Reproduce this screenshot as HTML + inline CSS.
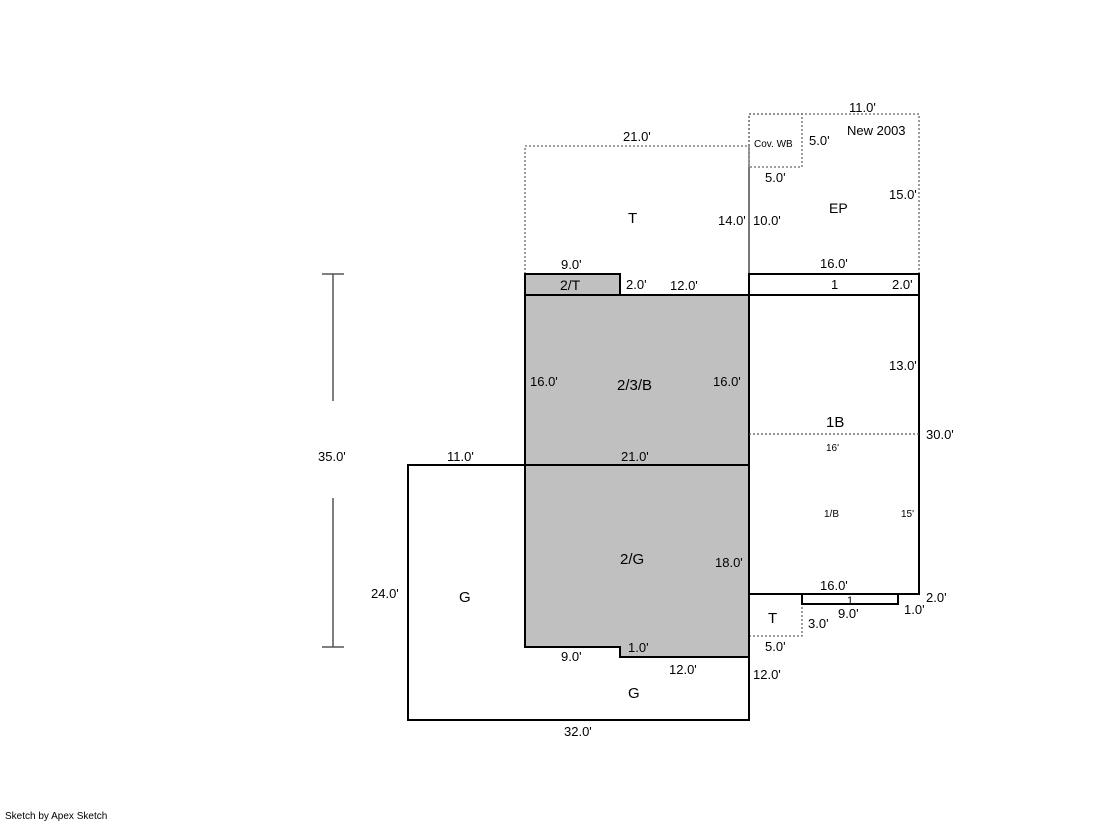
<!DOCTYPE html>
<html><head><style>body{margin:0;background:#fff}svg text{font-family:"Liberation Sans",sans-serif;font-size:13px;fill:#000}</style></head>
<body>
<svg width="1119" height="821" viewBox="0 0 1119 821" xmlns="http://www.w3.org/2000/svg">
<g fill="none" stroke="#666" stroke-width="1.3" stroke-dasharray="2,2">
<polyline points="525,274 525,146 749,146 749,167"/>
<polyline points="749,274 749,114 919,114 919,274"/>
<rect x="749" y="114" width="53" height="53"/>
<polyline points="749,636 802,636 802,604"/>
</g>
<line x1="749" y1="167" x2="749" y2="274" stroke="#777" stroke-width="2"/>
<polygon points="525,274 620,274 620,295 749,295 749,657 620,657 620,647 525,647" fill="#c0c0c0" stroke="none"/>
<g fill="none" stroke="#000" stroke-width="2">
<rect x="525" y="274" width="95" height="21"/>
<polyline points="620,295 749,295 749,657 620,657 620,647 525,647 525,295"/>
<line x1="525" y1="465" x2="749" y2="465"/>
<polyline points="525,465 408,465 408,720 749,720 749,657"/>
<rect x="749" y="274" width="170" height="320"/>
<line x1="749" y1="295" x2="919" y2="295"/>
<rect x="802" y="594" width="96" height="10"/>
</g>
<line x1="749" y1="434" x2="919" y2="434" stroke="#555" stroke-width="1.3" stroke-dasharray="2,2"/>
<g stroke="#555" stroke-width="1.5">
<line x1="333" y1="274" x2="333" y2="401"/><line x1="333" y1="498" x2="333" y2="647"/>
<line x1="322" y1="274" x2="344" y2="274"/><line x1="322" y1="647" x2="344" y2="647"/>
</g>
<text x="623" y="141">21.0'</text><text x="849" y="112">11.0'</text>
<text x="847" y="135">New 2003</text><text x="754" y="147" style="font-size:10px">Cov. WB</text>
<text x="809" y="145">5.0'</text><text x="765" y="182">5.0'</text>
<text x="628" y="223" style="font-size:15px">T</text><text x="718" y="225">14.0'</text><text x="753" y="225">10.0'</text>
<text x="829" y="213" style="font-size:14px">EP</text><text x="889" y="199">15.0'</text>
<text x="561" y="269">9.0'</text><text x="820" y="268">16.0'</text>
<text x="560" y="290" style="font-size:14px">2/T</text><text x="626" y="289">2.0'</text><text x="670" y="290">12.0'</text>
<text x="831" y="289">1</text><text x="892" y="289">2.0'</text>
<text x="617" y="390" style="font-size:15px">2/3/B</text><text x="530" y="386">16.0'</text><text x="713" y="386">16.0'</text>
<text x="889" y="370">13.0'</text><text x="826" y="427" style="font-size:15px">1B</text><text x="926" y="439">30.0'</text>
<text x="826" y="451" style="font-size:10px">16'</text><text x="824" y="517" style="font-size:10px">1/B</text><text x="901" y="517" style="font-size:10px">15'</text>
<text x="318" y="461">35.0'</text><text x="447" y="461">11.0'</text><text x="621" y="461">21.0'</text>
<text x="620" y="564" style="font-size:15px">2/G</text><text x="715" y="567">18.0'</text>
<text x="371" y="598">24.0'</text><text x="459" y="602" style="font-size:15px">G</text>
<text x="820" y="590">16.0'</text><text x="847" y="604" style="font-size:11px">1</text><text x="926" y="602">2.0'</text>
<text x="838" y="618">9.0'</text><text x="904" y="614">1.0'</text>
<text x="768" y="623" style="font-size:15px">T</text><text x="808" y="628">3.0'</text>
<text x="628" y="652">1.0'</text><text x="765" y="651">5.0'</text>
<text x="561" y="661">9.0'</text><text x="669" y="674">12.0'</text><text x="753" y="679">12.0'</text>
<text x="628" y="698" style="font-size:15px">G</text><text x="564" y="736">32.0'</text>
<text x="5" y="819" style="font-size:10px">Sketch by Apex Sketch</text>
</svg>
</body></html>
